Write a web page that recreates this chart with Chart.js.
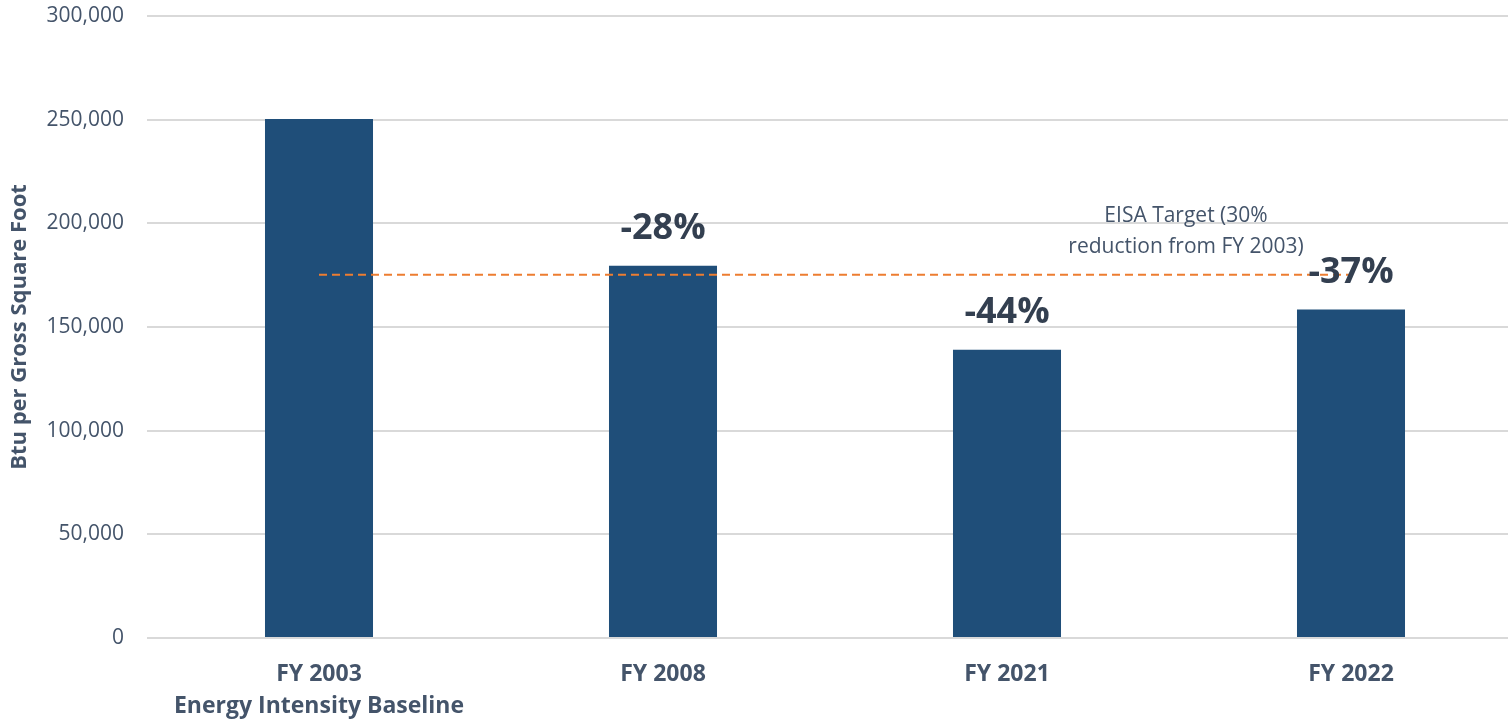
<!DOCTYPE html>
<html>
<head>
<meta charset="utf-8">
<script src="https://cdn.jsdelivr.net/npm/chart.js@4.4.1/dist/chart.umd.min.js"></script>
<style>
  html, body { margin: 0; padding: 0; background: #fff; overflow: hidden; }
  #wrap { width: 1523px; height: 721px; }
</style>
</head>
<body>
<div id="wrap"><canvas id="grafico"></canvas></div>
<script>
// dados
const categorias = [['FY 2003', 'Energy Intensity Baseline'], ['FY 2008'], ['FY 2021'], ['FY 2022']];
const intensidade = [250300, 179500, 139000, 158500];
const rotulosPct = ['', '-28%', '-44%', '-37%'];
const metaEisa = [175200, 175200, 175200, 175200];
const textoMeta = ['EISA Target (30%', 'reduction from FY 2003)'];
const ticksY = [0, 50000, 100000, 150000, 200000, 250000, 300000];

const corTexto = '#44546A';
const fonte = "'Open Sans', sans-serif";

// rótulos de percentagem + texto da meta
const rotulos = {
    id: 'rotulos',
    afterDatasetsDraw(chart) {
        const ctx = chart.ctx;
        const meta = chart.getDatasetMeta(1);
        ctx.save();
        ctx.textAlign = 'center';
        ctx.textBaseline = 'middle';
        ctx.fillStyle = '#333F50';
        ctx.font = "bold 36px " + fonte;
        meta.data.forEach((bar, i) => {
            if (rotulosPct[i]) ctx.fillText(rotulosPct[i], bar.x, bar.y - 37);
        });
        // texto da meta EISA
        const x = chart.scales.x;
        const y = chart.scales.y;
        const cx = (x.getPixelForValue(2) + x.getPixelForValue(3)) / 2 + 7;
        const cy = y.getPixelForValue(metaEisa[0]);
        ctx.fillStyle = corTexto;
        ctx.font = "21px " + fonte;
        ctx.fillText(textoMeta[0], cx, cy - 59);
        ctx.fillText(textoMeta[1], cx, cy - 28);
        ctx.restore();
    }
};

const ctx = document.getElementById('grafico').getContext('2d');
new Chart(ctx, {
    data: {
        labels: categorias,
        datasets: [
            {
                type: 'line',
                data: metaEisa,
                borderColor: '#ED7D31',
                borderWidth: 2,
                borderDash: [8, 5],
                pointRadius: 0,
                fill: false,
                order: 0
            },
            {
                type: 'bar',
                data: intensidade,
                backgroundColor: '#1F4E79',
                barPercentage: 0.314,
                categoryPercentage: 1,
                order: 1
            }
        ]
    },
    options: {
        responsive: true,
        maintainAspectRatio: false,
        animation: false,
        layout: { autoPadding: false, padding: { top: 16, right: 0, left: 0, bottom: 0 } },
        plugins: { legend: { display: false }, tooltip: { enabled: false } },
        scales: {
            y: {
                min: 0,
                max: 300000,
                afterBuildTicks: s => { s.ticks = ticksY.map(v => ({ value: v })); },
                afterFit: s => { s.width = 147; s.paddingTop = 0; s.paddingBottom = 0; },
                border: { display: false },
                grid: { color: '#D9D9D9', lineWidth: 2, drawTicks: false },
                ticks: {
                    color: corTexto,
                    padding: 23,
                    font: { family: fonte, size: 21 },
                    callback: v => v.toLocaleString('en-US')
                },
                title: {
                    display: true,
                    text: 'Btu per Gross Square Foot',
                    color: corTexto,
                    padding: { top: 7 },
                    font: { family: fonte, size: 22, weight: 'bold' }
                }
            },
            x: {
                afterFit: s => { s.height = 83; s.paddingLeft = 0; s.paddingRight = 0; },
                border: { display: false },
                grid: { display: false },
                ticks: {
                    color: corTexto,
                    padding: 12,
                    maxRotation: 0,
                    font: { family: fonte, size: 23, weight: 'bold', lineHeight: 1.4 }
                }
            }
        }
    },
    plugins: [rotulos]
});
</script>
</body>
</html>
